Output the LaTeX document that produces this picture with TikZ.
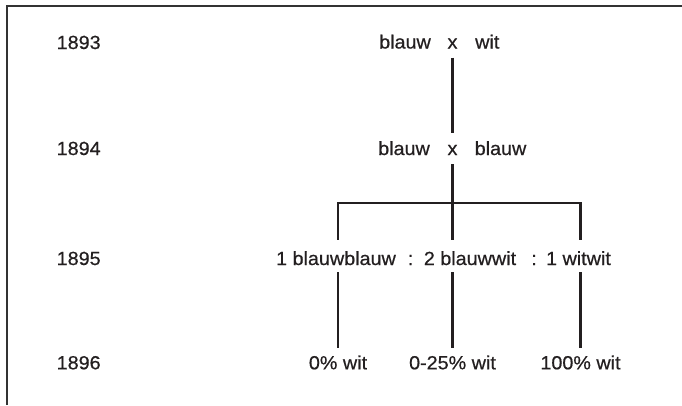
\documentclass[tikz,border=0pt]{standalone}
\usepackage{fontspec}
\setmainfont{Liberation Sans}[FakeStretch=1.04,FakeBold=0.6]
\definecolor{ink}{HTML}{231F20}
\begin{document}
\begin{tikzpicture}[x=1bp,y=-1bp,
  txt/.style={font=\fontsize{19bp}{22bp}\selectfont, text=ink, inner sep=0pt, anchor=base},
  yearlbl/.style={txt, anchor=base west},
  cross/.style={txt, text height=19bp, text depth=6bp, inner ysep=3bp},
  midrow/.style={txt, text height=22bp, text depth=4bp, inner ysep=3bp},
  botrow/.style={txt, text height=18bp, text depth=4bp, inner ysep=3.3bp},
  conn/.style={draw=ink, line width=2.2bp},
  frame/.style={draw=black!80, line width=1.4bp}]
\useasboundingbox (0,0) rectangle (682,405);
\draw[frame] (7,405) -- (7,6) -- (682,6);

% years
\node[yearlbl] (y1) at (56.5,49) {1893};
\node[yearlbl] (y2) at (56.5,155) {1894};
\node[yearlbl] (y3) at (56.5,265) {1895};
\node[yearlbl] (y4) at (56.5,369.3) {1896};

% 1893
\node[txt, anchor=base west] (p1a) at (379,48.5) {blauw};
\node[cross] (x1) at (452.5,48.5) {x};
\node[txt, anchor=base west] (p1b) at (475,48.5) {wit};

% 1894
\node[txt, anchor=base west] (p2a) at (378,155) {blauw};
\node[cross] (x2) at (452.5,155) {x};
\node[txt, anchor=base west] (p2b) at (474.5,155) {blauw};

% 1895
\node[midrow] (r1) at (336,265) {1 blauwblauw};
\node[txt] (c1) at (410.5,265) {:};
\node[midrow] (r2) at (470,265) {2 blauwwit};
\node[txt] (c2) at (534,265) {:};
\node[midrow] (r3) at (578.5,265) {1 witwit};

% 1896
\node[botrow] (g1) at (338,369.3) {0\% wit};
\node[botrow] (g2) at (452.5,369.3) {0-25\% wit};
\node[botrow] (g3) at (580.5,369.3) {100\% wit};

% connectors
\coordinate (bar) at (452.5,203);
\coordinate (b1) at (g1 |- bar);
\coordinate (b3) at (g3 |- bar);
\draw[conn] (x1.south) -- (x2.north);
\draw[conn] (x2.south) -- (bar);
\draw[conn, line cap=rect] (b1) -- (b3);
\draw[conn] (b1) -- (b1 |- r1.north);
\draw[conn] (bar) -- (bar |- r2.north);
\draw[conn] (b3) -- (b3 |- r3.north);
\draw[conn] (g1 |- r1.south) -- (g1.north);
\draw[conn] (g2 |- r2.south) -- (g2.north);
\draw[conn] (g3 |- r3.south) -- (g3.north);
\end{tikzpicture}
\end{document}
